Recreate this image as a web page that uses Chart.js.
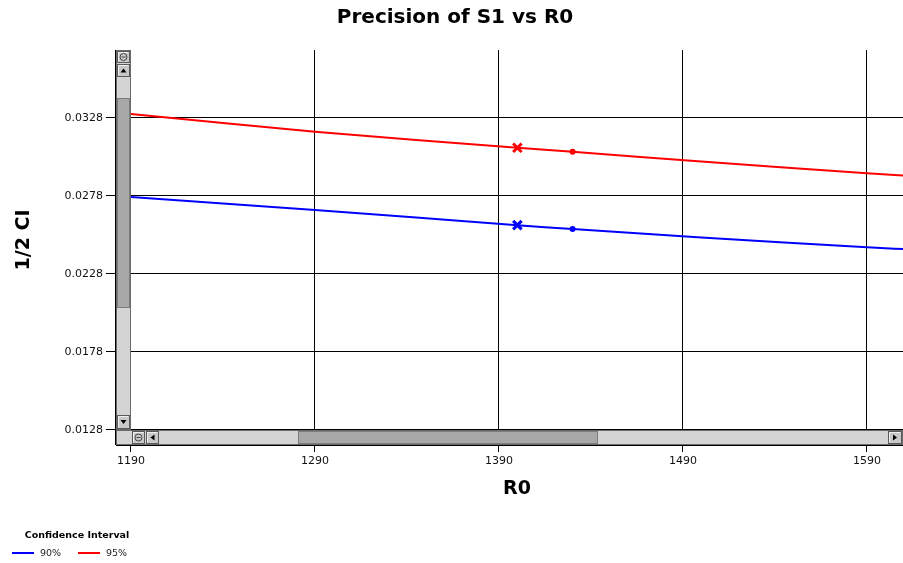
<!DOCTYPE html>
<html><head><meta charset="utf-8">
<script src="https://cdn.jsdelivr.net/npm/chart.js@4.4.1/dist/chart.umd.min.js"></script>
<style>html,body{margin:0;padding:0;background:#fff;}#wrap{width:903px;height:563px;position:relative;}</style>
</head><body><div id="wrap"><canvas id="c" width="903" height="563"></canvas></div>
<script>
const chartTitle = 'Precision of S1 vs R0';
const xTitle = 'R0';
const yTitle = '1/2 CI';
const legendTitle = 'Confidence Interval';
const seriesLabels = ['90%', '95%'];
const r0Values = [1180, 1190, 1290, 1400, 1430, 1500, 1590, 1620];
const ci90 = [0.02782, 0.02774, 0.02690, 0.02593, 0.02568, 0.02514, 0.02452, 0.02433];
const ci95 = [0.03317, 0.03306, 0.03192, 0.03089, 0.03063, 0.03001, 0.02926, 0.02903];
const crossR0 = [1400];
const cross90 = [0.02593];
const cross95 = [0.03089];
const dotR0 = [1430];
const dot90 = [0.02568];
const dot95 = [0.03063];
const xTickValues = [1190, 1290, 1390, 1490, 1590];
const yTickValues = [0.0128, 0.0178, 0.0228, 0.0278, 0.0328];
const xRange = [1181.85, 1609.6];
const yRange = [0.011838, 0.037159];

const BLUE = '#0000ff', RED = '#ff0000';
const pts = (xs, ys) => xs.map((x, i) => ({x: x, y: ys[i]}));

function drawBtn(ctx, x, y, w, h, kind) {
  ctx.fillStyle = '#c8c8c8';
  ctx.fillRect(x, y, w, h);
  ctx.strokeStyle = '#5a5a5a';
  ctx.lineWidth = 1;
  ctx.strokeRect(x + 0.5, y + 0.5, w - 1, h - 1);
  ctx.strokeStyle = '#f0f0f0';
  ctx.beginPath(); ctx.moveTo(x + 1.5, y + h - 1.5); ctx.lineTo(x + 1.5, y + 1.5); ctx.lineTo(x + w - 1.5, y + 1.5); ctx.stroke();
  const cx = x + w / 2, cy = y + h / 2;
  ctx.fillStyle = '#000';
  ctx.beginPath();
  if (kind === 'up') { ctx.moveTo(cx - 3, cy + 2); ctx.lineTo(cx + 3, cy + 2); ctx.lineTo(cx, cy - 2); }
  else if (kind === 'down') { ctx.moveTo(cx - 3, cy - 2); ctx.lineTo(cx + 3, cy - 2); ctx.lineTo(cx, cy + 2); }
  else if (kind === 'left') { ctx.moveTo(cx + 2, cy - 3); ctx.lineTo(cx + 2, cy + 3); ctx.lineTo(cx - 2, cy); }
  else if (kind === 'right') { ctx.moveTo(cx - 2, cy - 3); ctx.lineTo(cx - 2, cy + 3); ctx.lineTo(cx + 2, cy); }
  if (kind !== 'zoom') { ctx.closePath(); ctx.fill(); }
  else {
    ctx.strokeStyle = '#444';
    ctx.beginPath(); ctx.arc(cx, cy, 3.5, 0, Math.PI * 2); ctx.stroke();
    ctx.beginPath(); ctx.moveTo(cx - 2, cy); ctx.lineTo(cx + 2, cy); ctx.stroke();
  }
}

const decor = {
  id: 'decor',
  afterDraw(chart) {
    const ctx = chart.ctx;
    const a = chart.chartArea;
    ctx.save();
    const L = Math.round(a.left), B = Math.round(a.bottom), T = Math.round(a.top), R = Math.round(a.right);
    const sw = 15;
    // vertical scrollbar
    ctx.fillStyle = '#d4d4d4';
    ctx.fillRect(L, T, sw, B - sw - T);
    ctx.strokeStyle = '#6a6a6a';
    ctx.strokeRect(L + 0.5, T + 0.5, sw - 1, B - sw - T - 1);
    drawBtn(ctx, L + 1, T + 1, sw - 2, 12, 'zoom');
    drawBtn(ctx, L + 1, T + 14, sw - 2, 13, 'up');
    ctx.fillStyle = '#a8a8a8';
    ctx.fillRect(L + 1, T + 48, sw - 2, 210);
    ctx.strokeStyle = '#7c7c7c';
    ctx.strokeRect(L + 1.5, T + 48.5, sw - 3, 209);
    drawBtn(ctx, L + 1, B - sw - 15, sw - 2, 14, 'down');
    // horizontal scrollbar
    ctx.fillStyle = '#d4d4d4';
    ctx.fillRect(L, B - sw, R - L, sw);
    ctx.strokeStyle = '#6a6a6a';
    ctx.strokeRect(L + 0.5, B - sw + 0.5, R - L - 1, sw - 1);
    drawBtn(ctx, L + 16, B - sw + 1, 13, sw - 2, 'zoom');
    drawBtn(ctx, L + 30, B - sw + 1, 13, sw - 2, 'left');
    ctx.fillStyle = '#a8a8a8';
    ctx.fillRect(298, B - sw + 1, 300, sw - 2);
    ctx.strokeStyle = '#7c7c7c';
    ctx.strokeRect(298.5, B - sw + 1.5, 299, sw - 3);
    drawBtn(ctx, R - 15, B - sw + 1, 14, sw - 2, 'right');
    // axis lines on top of bars
    ctx.strokeStyle = '#000';
    ctx.beginPath(); ctx.moveTo(L - 0.5, T); ctx.lineTo(L - 0.5, B); ctx.stroke();
    ctx.beginPath(); ctx.moveTo(L, B + 0.5); ctx.lineTo(R, B + 0.5); ctx.stroke();

    // titles
    ctx.fillStyle = '#000';
    ctx.textAlign = 'center';
    ctx.textBaseline = 'middle';
    ctx.font = 'bold 20px "DejaVu Sans"';
    ctx.fillText(chartTitle, 455, 18);
    ctx.font = 'bold 19px "DejaVu Sans"';
    ctx.fillText(xTitle, 517, 489);
    ctx.save();
    ctx.translate(24, 240);
    ctx.rotate(-Math.PI / 2);
    ctx.fillText(yTitle, 0, 0);
    ctx.restore();

    // legend
    ctx.font = 'bold 9.5px "DejaVu Sans"';
    ctx.fillText(legendTitle, 77, 536);
    ctx.font = '9.5px "DejaVu Sans"';
    ctx.textAlign = 'left';
    const ds = chart.data.datasets;
    const lx = [12, 78];
    [0, 1].forEach(i => {
      ctx.strokeStyle = ds[i].borderColor;
      ctx.lineWidth = 2;
      ctx.beginPath(); ctx.moveTo(lx[i], 553); ctx.lineTo(lx[i] + 22, 553); ctx.stroke();
      ctx.fillStyle = '#222';
      ctx.fillText(ds[i].label, lx[i] + 28, 554);
    });
    ctx.restore();
  }
};

new Chart(document.getElementById('c'), {
  type: 'scatter',
  data: {
    datasets: [
      {label: seriesLabels[0], data: pts(r0Values, ci90), showLine: true, borderColor: BLUE, backgroundColor: BLUE, borderWidth: 2, pointRadius: 0, tension: 0.3, clip: 0},
      {label: seriesLabels[1], data: pts(r0Values, ci95), showLine: true, borderColor: RED, backgroundColor: RED, borderWidth: 2, pointRadius: 0, tension: 0.3, clip: 0},
      {label: 'x90', data: pts(crossR0, cross90), pointStyle: 'crossRot', pointRadius: 6, borderWidth: 3, borderColor: BLUE, backgroundColor: BLUE},
      {label: 'x95', data: pts(crossR0, cross95), pointStyle: 'crossRot', pointRadius: 6, borderWidth: 3, borderColor: RED, backgroundColor: RED},
      {label: 'd90', data: pts(dotR0, dot90), pointStyle: 'circle', pointRadius: 3, borderWidth: 0, backgroundColor: BLUE},
      {label: 'd95', data: pts(dotR0, dot95), pointStyle: 'circle', pointRadius: 3, borderWidth: 0, backgroundColor: RED}
    ]
  },
  options: {
    responsive: false,
    animation: false,
    devicePixelRatio: 1,
    layout: {autoPadding: false, padding: {top: 50, left: 0, right: 0, bottom: 0}},
    plugins: {legend: {display: false}, title: {display: false}, tooltip: {enabled: false}},
    scales: {
      x: {
        type: 'linear', min: xRange[0], max: xRange[1],
        afterBuildTicks: s => { s.ticks = xTickValues.map(v => ({value: v})); },
        afterFit: s => { s.height = 118; s.paddingLeft = 0; s.paddingRight = 0; },
        grid: {color: '#000', lineWidth: 1, tickLength: 7, tickColor: '#000'},
        border: {display: true, color: '#000'},
        ticks: {color: '#111', font: {family: 'DejaVu Sans', size: 11}, padding: 3, maxRotation: 0, callback: v => String(v)}
      },
      y: {
        type: 'linear', min: yRange[0], max: yRange[1],
        afterBuildTicks: s => { s.ticks = yTickValues.map(v => ({value: v})); },
        afterFit: s => { s.width = 116; s.paddingTop = 0; s.paddingBottom = 0; },
        grid: {color: '#000', lineWidth: 1, tickLength: 10, tickColor: '#000'},
        border: {display: true, color: '#000'},
        ticks: {color: '#111', font: {family: 'DejaVu Sans', size: 11}, padding: 3, callback: v => v.toFixed(4)}
      }
    }
  },
  plugins: [decor]
});
</script>
</body></html>
